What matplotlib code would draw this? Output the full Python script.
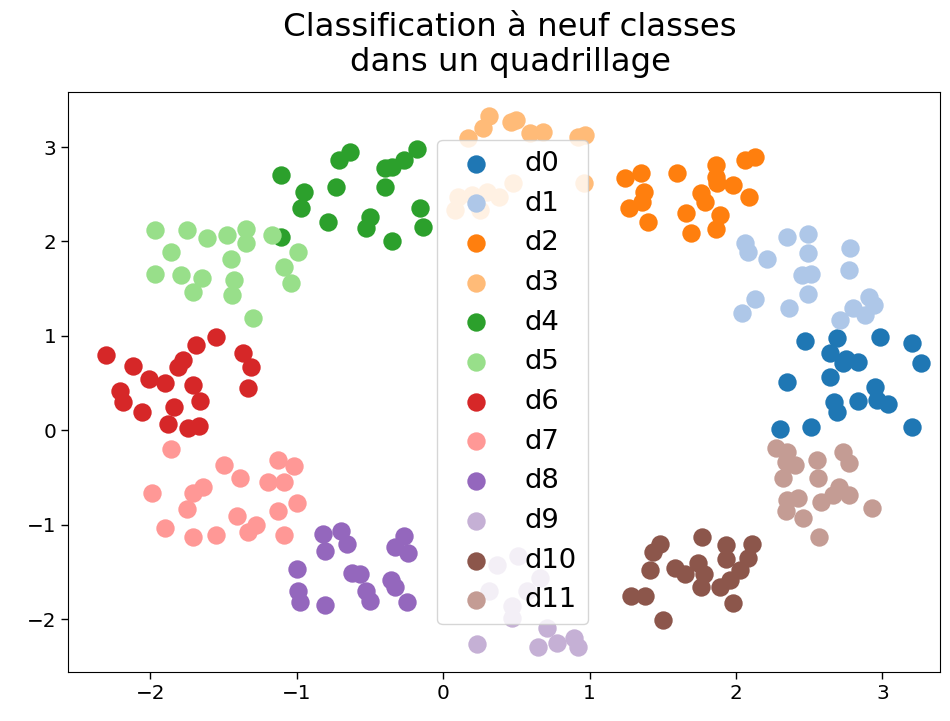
import matplotlib
matplotlib.use("Agg")
import matplotlib.pyplot as plt
import numpy as np

labels = ["d0", "d1", "d2", "d3", "d4", "d5", "d6", "d7", "d8", "d9", "d10", "d11"]

d0_x = [2.47, 2.69, 2.98, 3.20, 3.26, 2.64, 2.75, 2.73, 2.83, 2.35, 2.64, 2.67, 2.69, 2.83, 2.95, 2.96, 3.04, 2.30, 2.51, 3.20]
d0_y = [0.95, 0.98, 0.99, 0.92, 0.71, 0.82, 0.76, 0.71, 0.72, 0.51, 0.56, 0.30, 0.19, 0.31, 0.46, 0.32, 0.28, 0.01, 0.03, 0.03]

d1_x = [2.06, 2.08, 2.21, 2.35, 2.49, 2.49, 2.45, 2.51, 2.78, 2.77, 2.13, 2.04, 2.36, 2.49, 2.71, 2.80, 2.91, 2.94, 2.88]
d1_y = [1.98, 1.89, 1.81, 2.05, 2.08, 1.88, 1.64, 1.66, 1.93, 1.70, 1.39, 1.24, 1.30, 1.44, 1.17, 1.30, 1.41, 1.33, 1.22]

d2_x = [1.24, 1.35, 1.37, 1.36, 1.27, 1.40, 1.60, 1.86, 1.86, 1.87, 1.98, 1.76, 1.79, 1.66, 1.69, 1.89, 1.86, 2.09, 2.06, 2.13]
d2_y = [2.67, 2.73, 2.52, 2.42, 2.35, 2.21, 2.73, 2.81, 2.68, 2.62, 2.60, 2.51, 2.42, 2.30, 2.09, 2.28, 2.13, 2.47, 2.86, 2.89]

d3_x = [0.31, 0.27, 0.50, 0.46, 0.59, 0.68, 0.92, 0.97, 0.17, 0.10, 0.20, 0.30, 0.38, 0.48, 0.96, 0.08, 0.25]
d3_y = [3.33, 3.20, 3.29, 3.26, 3.15, 3.16, 3.11, 3.13, 3.10, 2.47, 2.49, 2.52, 2.47, 2.62, 2.62, 2.33, 2.33]

d4_x = [-1.11, -0.95, -0.97, -0.71, -0.64, -0.73, -0.79, -0.50, -0.53, -0.35, -0.40, -0.35, -0.27, -0.18, -0.40, -0.16, -0.14, -1.11]
d4_y = [2.70, 2.52, 2.35, 2.86, 2.95, 2.58, 2.21, 2.26, 2.14, 2.01, 2.78, 2.79, 2.86, 2.98, 2.58, 2.35, 2.15, 2.05]

d5_x = [-1.97, -1.75, -1.86, -1.61, -1.48, -1.35, -1.35, -1.45, -1.97, -1.79, -1.65, -1.71, -1.43, -1.44, -1.17, -0.99, -1.09, -1.04, -1.30]
d5_y = [2.12, 2.12, 1.89, 2.04, 2.07, 2.13, 1.98, 1.81, 1.66, 1.64, 1.61, 1.46, 1.59, 1.43, 2.07, 1.89, 1.73, 1.56, 1.19]

d6_x = [-2.30, -2.12, -2.01, -1.90, -2.21, -2.19, -2.06, -1.84, -1.88, -1.78, -1.81, -1.69, -1.55, -1.71, -1.66, -1.74, -1.67, -1.37, -1.31, -1.33]
d6_y = [0.80, 0.68, 0.54, 0.50, 0.42, 0.30, 0.19, 0.25, 0.07, 0.74, 0.67, 0.90, 0.99, 0.48, 0.31, 0.02, 0.05, 0.82, 0.67, 0.45]

d7_x = [-1.86, -1.50, -1.39, -1.13, -1.02, -1.20, -1.09, -1.99, -1.71, -1.64, -1.75, -1.00, -1.13, -1.41, -1.28, -1.33, -1.90, -1.71, -1.55, -1.09]
d7_y = [-0.20, -0.37, -0.51, -0.31, -0.38, -0.55, -0.55, -0.66, -0.66, -0.60, -0.83, -0.77, -0.86, -0.91, -1.00, -1.08, -1.03, -1.13, -1.11, -1.11]

d8_x = [-0.82, -0.81, -0.70, -0.66, -1.00, -0.99, -0.98, -0.81, -0.62, -0.57, -0.53, -0.50, -0.36, -0.33, -0.25, -0.27, -0.33, -0.24]
d8_y = [-1.10, -1.28, -1.07, -1.20, -1.47, -1.70, -1.82, -1.85, -1.51, -1.52, -1.70, -1.81, -1.59, -1.66, -1.82, -1.12, -1.24, -1.30]

d9_x = [0.23, 0.65, 0.78, 0.89, 0.92, 0.71, 0.37, 0.51, 0.31, 0.47, 0.47, 0.57, 0.66]
d9_y = [-2.26, -2.30, -2.25, -2.20, -2.30, -2.09, -1.43, -1.33, -1.70, -1.86, -1.99, -1.70, -1.56]

d10_x = [1.77, 1.48, 1.43, 1.41, 1.58, 1.65, 1.74, 1.78, 1.76, 1.93, 1.93, 2.11, 2.08, 2.03, 1.96, 1.89, 1.28, 1.38, 1.98, 1.50]
d10_y = [-1.13, -1.20, -1.29, -1.48, -1.46, -1.52, -1.41, -1.52, -1.66, -1.22, -1.36, -1.20, -1.35, -1.48, -1.59, -1.66, -1.76, -1.76, -1.83, -2.01]

d11_x = [2.27, 2.35, 2.34, 2.40, 2.55, 2.73, 2.77, 2.32, 2.56, 2.70, 2.77, 2.35, 2.42, 2.58, 2.66, 2.34, 2.46, 2.93, 2.57]
d11_y = [-0.19, -0.23, -0.34, -0.37, -0.31, -0.23, -0.35, -0.51, -0.51, -0.60, -0.69, -0.74, -0.72, -0.76, -0.69, -0.85, -0.93, -0.82, -1.13]

xs = [d0_x, d1_x, d2_x, d3_x, d4_x, d5_x, d6_x, d7_x, d8_x, d9_x, d10_x, d11_x]
ys = [d0_y, d1_y, d2_y, d3_y, d4_y, d5_y, d6_y, d7_y, d8_y, d9_y, d10_y, d11_y]

title = "Classification à neuf classes\ndans un quadrillage"

cmap = plt.get_cmap("tab20")

fig = plt.figure(figsize=(9.5, 7.21), dpi=100)
ax = fig.add_axes([0.072, 0.068, 0.917, 0.804])

for i, (lab, x, y) in enumerate(zip(labels, xs, ys)):
    ax.scatter(x, y, s=175, color=cmap(i), label=lab, linewidths=0)

ax.set_xlim(-2.56, 3.39)
ax.set_ylim(-2.56, 3.58)
ax.set_xticks([-2, -1, 0, 1, 2, 3])
ax.set_yticks([-2, -1, 0, 1, 2, 3])
ax.tick_params(labelsize=14.4, length=5, width=1)
ax.set_title(title, fontsize=23.3, pad=15, x=0.507)
ax.legend(loc="center", bbox_to_anchor=(0.51, 0.5), fontsize=19.7, handletextpad=0.8)

fig.savefig("out.png", dpi=100)
